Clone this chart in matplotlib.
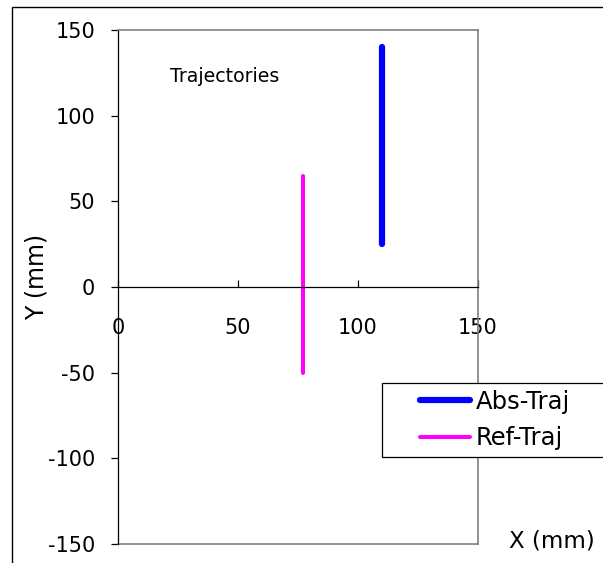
import numpy as np
import matplotlib.pyplot as plt
from matplotlib.patches import Rectangle
from matplotlib.lines import Line2D

# trajectory end points (mm)
abs_x = [110, 110]
abs_y = [25, 140]
ref_x = [77, 77]
ref_y = [-50, 65]

x_ticks = [0, 50, 100, 150]
y_ticks = [-150, -100, -50, 0, 50, 100, 150]

W, H = 603, 563
plt.rcParams['font.family'] = 'DejaVu Sans'
plt.rcParams['axes.unicode_minus'] = False
fig = plt.figure(figsize=(W/100, H/100), dpi=100)

# outer chart border (cropped on right/bottom)
fig.patches.append(Rectangle((11.7/W, -0.2), 1.5, 1 - 7/H + 0.2, transform=fig.transFigure,
                             fill=False, ec='black', lw=1.0, clip_on=False))

ax = fig.add_axes([118/W, 1 - 544/H, 360/W, 514/H])
ax.set_xlim(0, 150)
ax.set_ylim(-150, 150)

ax.plot(abs_x, abs_y, color='#0000ff', lw=4.5, solid_capstyle='round', label='Abs-Traj')
ax.plot(ref_x, ref_y, color='#ff00ff', lw=2.9, solid_capstyle='round', label='Ref-Traj')

for s in ['top', 'right']:
    ax.spines[s].set_color('#808080')
    ax.spines[s].set_linewidth(1.2)
ax.spines['left'].set_color('black')
ax.spines['left'].set_linewidth(0.9)
ax.spines['bottom'].set_position(('data', 0))
ax.spines['bottom'].set_color('black')
ax.spines['bottom'].set_linewidth(0.9)
# gray bottom edge of the plot area
ax.add_line(Line2D([0, 1], [0, 0], transform=ax.transAxes, color='#808080', lw=1.2, clip_on=False))

ax.set_xticks(x_ticks)
ax.set_yticks(y_ticks)
ax.tick_params(axis='x', direction='in', length=5, width=0.9, pad=22, labelsize=15)
ax.tick_params(axis='y', direction='out', length=5, width=0.9, pad=11.5, labelsize=15)

fig.text(37/W, 1 - 277/H, 'Y (mm)', rotation=90, ha='center', va='center', fontsize=17)
fig.text(552/W, 1 - 541/H, 'X (mm)', ha='center', va='center', fontsize=16.5)
fig.text(170/W, 1 - 76/H, 'Trajectories', ha='left', va='center', fontsize=13.6)

# legend frame (runs off the right edge, as in the original)
fig.patches.append(Rectangle((381.7/W, 1 - 457.3/H), 1.0, 74/H, transform=fig.transFigure,
                             fc='white', ec='black', lw=0.9, zorder=5))
handles, labels = ax.get_legend_handles_labels()
leg = fig.legend(handles, labels, loc='center left', bbox_to_anchor=(420/W, 1 - 420/H),
                 bbox_transform=fig.transFigure, borderaxespad=0, borderpad=0,
                 frameon=False, fontsize=17.5, handlelength=2.05, handletextpad=0.25,
                 labelspacing=0.52)
leg.set_zorder(6)

fig.savefig('out.png', dpi=100)
